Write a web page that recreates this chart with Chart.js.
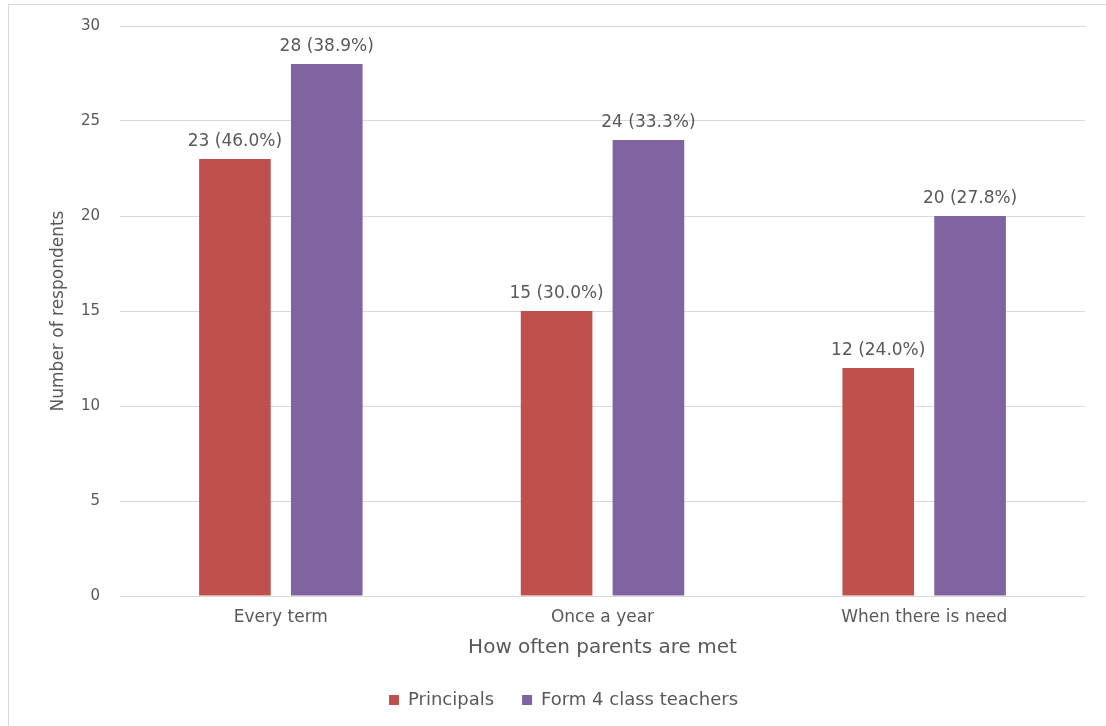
<!DOCTYPE html>
<html>
<head>
<meta charset="utf-8">
<script src="https://cdn.jsdelivr.net/npm/chart.js@4.4.1/dist/chart.umd.min.js"></script>
<style>
  html, body { margin: 0; padding: 0; background: #ffffff; }
  #wrap { position: relative; width: 1106px; height: 726px; }
  #frame { position: absolute; left: 8px; top: 4px; width: 1110px; height: 740px; border: 1px solid #d9d9d9; box-sizing: border-box; pointer-events: none; }
  canvas { position: absolute; left: 0; top: 0; }
</style>
</head>
<body>
<div id="wrap">
  <canvas id="c" width="1106" height="726"></canvas>
  <div id="frame"></div>
</div>
<script>
const categories = ["Every term", "Once a year", "When there is need"];
const seriesNames = ["Principals", "Form 4 class teachers"];
const principals = [23, 15, 12];
const principalsPct = ["46.0%", "30.0%", "24.0%"];
const teachers = [28, 24, 20];
const teachersPct = ["38.9%", "33.3%", "27.8%"];
const yTicks = [0, 5, 10, 15, 20, 25, 30];
const xTitle = "How often parents are met";
const yTitle = "Number of respondents";

const TEXT = "#595959";
const FONT = "'DejaVu Sans', sans-serif";

const pctLabels = [principalsPct, teachersPct];

const valueLabels = {
  id: "valueLabels",
  afterDatasetsDraw(chart) {
    const ctx = chart.ctx;
    ctx.save();
    ctx.fillStyle = TEXT;
    ctx.font = "17px " + FONT;
    ctx.textAlign = "center";
    ctx.textBaseline = "middle";
    chart.data.datasets.forEach((ds, di) => {
      const meta = chart.getDatasetMeta(di);
      meta.data.forEach((el, i) => {
        ctx.fillText(ds.data[i] + " (" + pctLabels[di][i] + ")", el.x, el.y - 17);
      });
    });
    ctx.restore();
  }
};

new Chart(document.getElementById("c"), {
  type: "bar",
  data: {
    labels: categories,
    datasets: [
      { label: seriesNames[0], data: principals, backgroundColor: "#C0504D", borderWidth: 0 },
      { label: seriesNames[1], data: teachers, backgroundColor: "#8064A2", borderWidth: 0 }
    ]
  },
  options: {
    responsive: false,
    animation: false,
    devicePixelRatio: 1,
    events: [],
    categoryPercentage: 0.571,
    barPercentage: 0.78,
    layout: { padding: { left: 42, right: 21, top: 26, bottom: 7 } },
    plugins: {
      tooltip: { enabled: false },
      legend: {
        position: "bottom",
        labels: {
          color: TEXT,
          font: { family: FONT, size: 18 },
          boxWidth: 10,
          boxHeight: 10,
          padding: 28
        }
      }
    },
    scales: {
      x: {
        grid: { display: false, drawTicks: false },
        border: { display: true, color: "#d9d9d9" },
        ticks: { color: TEXT, font: { family: FONT, size: 17 }, padding: 11 },
        title: { display: true, text: xTitle, color: TEXT, font: { family: FONT, size: 20 }, padding: { top: 0, bottom: 3 } },
        afterFit(scale) { scale.height = 67; }
      },
      y: {
        min: 0,
        max: 30,
        afterBuildTicks(scale) { scale.ticks = yTicks.map(v => ({ value: v })); },
        grid: { color: "#d9d9d9", drawTicks: false },
        border: { display: false },
        ticks: { color: TEXT, font: { family: FONT, size: 15 }, padding: 20 },
        title: { display: true, text: yTitle, color: TEXT, font: { family: FONT, size: 17 }, padding: { top: 6, bottom: 0 } },
        afterFit(scale) { scale.width = 78; scale.paddingTop = 0; scale.paddingBottom = 0; }
      }
    }
  },
  plugins: [valueLabels]
});
</script>
</body>
</html>
